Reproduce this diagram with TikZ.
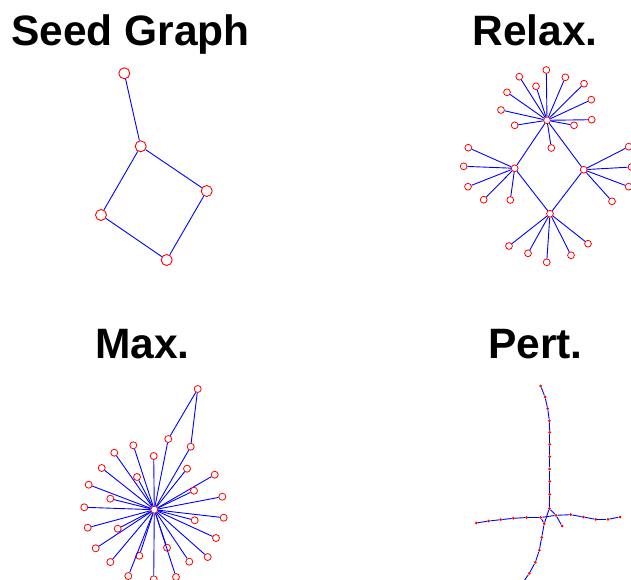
\documentclass[tikz,border=0pt]{standalone}
\usepackage{fontspec}
\setmainfont{Liberation Sans}
\begin{document}
\begin{tikzpicture}[x=1pt,y=-1pt,
  edge/.style={draw={rgb,255:red,0;green,0;blue,255},line width=0.9pt},
  seedn/.style={circle,draw={rgb,255:red,255;green,0;blue,0},fill=white,line width=0.9pt,inner sep=0pt,minimum size=11pt},
  relaxn/.style={circle,draw={rgb,255:red,255;green,0;blue,0},fill=white,line width=0.8pt,inner sep=0pt,minimum size=6.8pt},
  maxn/.style={circle,draw={rgb,255:red,255;green,0;blue,0},fill=white,line width=0.8pt,inner sep=0pt,minimum size=7pt},
  pertn/.style={circle,fill={rgb,255:red,255;green,0;blue,0},inner sep=0pt,minimum size=3pt},
  title/.style={anchor=base,font=\fontsize{42.5}{42.5}\selectfont\bfseries,inner sep=0pt}]
\useasboundingbox (0,0) rectangle (631,580);
% titles
\node[title] (t1) at (130.5,46) {Seed Graph};
\node[title] (t2) at (535,46) {Relax.};
\node[title] (t3) at (142.5,358.5) {Max.};
\node[title] (t4) at (535.5,358.5) {Pert.};
% ---------- Seed graph ----------
\node[seedn] (s1) at (124.3,73.3) {};
\node[seedn] (s2) at (140.7,146.3) {};
\node[seedn] (s3) at (206.7,191) {};
\node[seedn] (s4) at (101,215) {};
\node[seedn] (s5) at (166.7,260) {};
\draw[edge] (s1) -- (s2);
\draw[edge] (s2) -- (s3);
\draw[edge] (s3) -- (s5);
\draw[edge] (s5) -- (s4);
\draw[edge] (s4) -- (s2);
% ---------- Relax ----------
\node[relaxn] (ra) at (547,120.3) {};
\node[relaxn] (rl) at (514.7,168.3) {};
\node[relaxn] (rr) at (583.7,169.7) {};
\node[relaxn] (rb) at (550,213.7) {};
\draw[edge] (ra) -- (rl);
\draw[edge] (ra) -- (rr);
\draw[edge] (rl) -- (rb);
\draw[edge] (rr) -- (rb);
\foreach \i/\x/\y in {1/546.3/70,2/565.3/77.3,3/584/83.7,4/591.3/99.7,5/591.7/119.7,6/574/125.3,7/551.3/148,8/514.7/125.3,9/501/110,10/507/92.3,11/519.3/76.7,12/536/86.3}{
  \node[relaxn] (ra\i) at (\x,\y) {};
  \draw[edge] (ra) -- (ra\i);
}
\foreach \i/\x/\y in {1/468.3/147.7,2/463.7/166.3,3/468/186.7,4/483.7/199.7,5/510.3/200}{
  \node[relaxn] (rl\i) at (\x,\y) {};
  \draw[edge] (rl) -- (rl\i);
}
\foreach \i/\x/\y in {1/628.7/146.7,2/631.5/167,3/628.7/186.7,4/612/201.3}{
  \node[relaxn] (rr\i) at (\x,\y) {};
  \draw[edge] (rr) -- (rr\i);
}
\foreach \i/\x/\y in {1/509/246,2/528/253.3,3/546.7/262.3,4/571/255.3,5/588/243.7}{
  \node[relaxn] (rb\i) at (\x,\y) {};
  \draw[edge] (rb) -- (rb\i);
}
% ---------- Max ----------
\node[maxn] (mh) at (154.3,509.7) {};
\node[maxn] (mt) at (197.7,389) {};
\node[maxn] (m1) at (168.3,439) {};
\node[maxn] (m2) at (190.7,446.7) {};
\draw[edge] (mt) -- (m1);
\draw[edge] (mt) -- (m2);
\draw[edge] (mh) -- (m1);
\draw[edge] (mh) -- (m2);
\foreach \i/\x/\y in {3/133.3/445.3,4/114.3/452.7,5/153.7/456,6/101.7/468,7/137/477,8/187/468.7,9/214.7/474.7,10/88.7/484.7,11/194/490.7,12/110.3/498.7,13/222.3/496.7,14/84.3/507.3,15/223.7/517.7,16/194.7/520.3,17/87.7/527.7,18/117.7/528.7,19/216/538,20/95.7/548.3,21/167/547.7,22/207.7/557,23/139.3/555.7,24/110.3/562,25/189.3/561.7,26/128.3/576,27/153.7/579.3,28/176/577}{
  \node[maxn] (m\i) at (\x,\y) {};
  \draw[edge] (mh) -- (m\i);
}
% ---------- Pert ----------
\foreach \i/\x/\y in {1/540.7/386,2/545/397,3/547.7/408.7,4/549.3/420.7,5/549.7/432.3,6/549.7/444.3,7/549.7/456.7,8/549.7/469,9/549.7/481.3,10/549.7/494.3,11/549.3/508.5}{
  \node[pertn] (v\i) at (\x,\y) {};
}
\foreach \i/\x/\y in {1/476.3/523,2/488.7/521,3/500.7/519.7,4/513.3/518.3,5/526.7/517.5,6/540.7/517.5}{
  \node[pertn] (l\i) at (\x,\y) {};
}
\foreach \i/\x/\y in {1/556/515.3,2/570.7/514.7,3/583.3/517,4/595.7/519.3,5/608/519.3,6/620/517}{
  \node[pertn] (r\i) at (\x,\y) {};
}
\node[pertn] (pc) at (544.2,523.7) {};
\node[pertn] (pp) at (562,526) {};
\foreach \i/\x/\y in {1/541.7/537.3,2/539.3/550.3,3/535.3/562.3,4/529.3/573.3}{
  \node[pertn] (d\i) at (\x,\y) {};
}
\coordinate (dend) at (524,581);
\foreach \i [evaluate=\i as \j using int(\i+1)] in {1,...,10}{
  \draw[edge] (v\i) -- (v\j);
}
\foreach \i [evaluate=\i as \j using int(\i+1)] in {1,...,5}{
  \draw[edge] (l\i) -- (l\j);
  \draw[edge] (r\i) -- (r\j);
}
\draw[edge] (l6) -- (r1);
\draw[edge] (v11) -- (r1);
\draw[edge] (v11) -- (pc);
\draw[edge] (l6) -- (pc);
\draw[edge] (r1) -- (pp);
\draw[edge] (pc) -- (d1);
\draw[edge] (d1) -- (d2);
\draw[edge] (d2) -- (d3);
\draw[edge] (d3) -- (d4);
\draw[edge] (d4) -- (dend);
\end{tikzpicture}
\end{document}
